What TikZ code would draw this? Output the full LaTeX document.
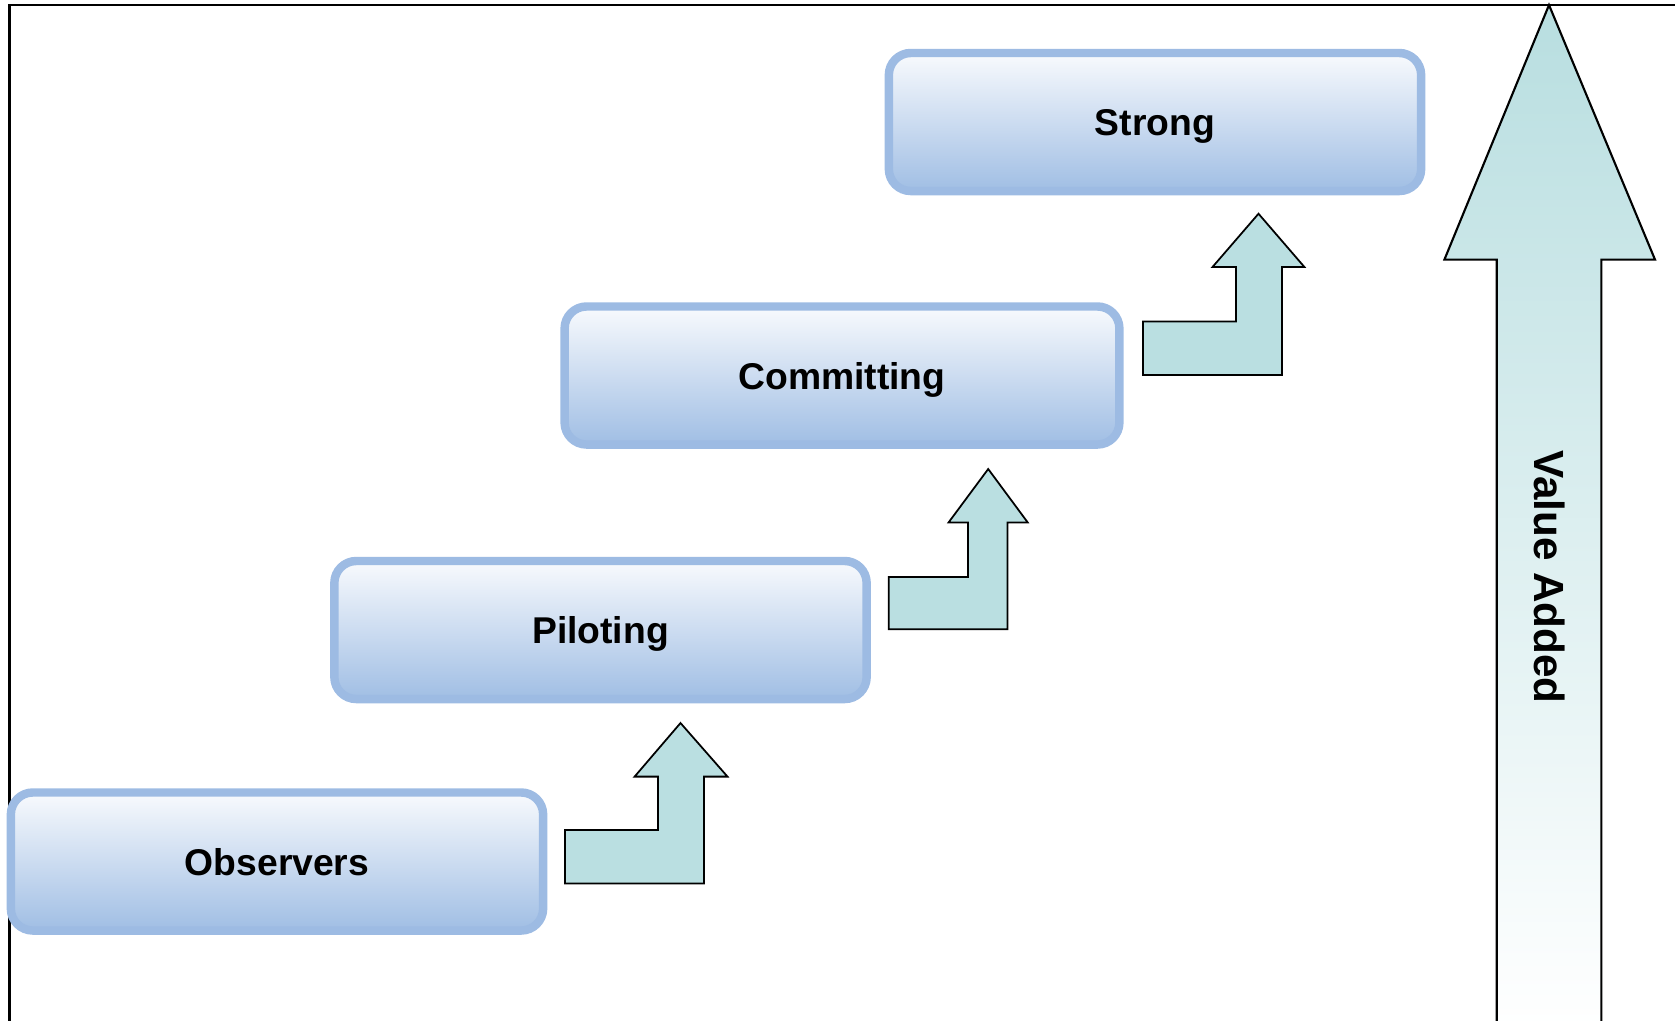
\documentclass[tikz,border=0pt]{standalone}
\usepackage{fontspec}
\setmainfont{Liberation Sans}
\usepackage{tikz}
\usetikzlibrary{positioning}
\definecolor{boxedge}{RGB}{157,187,227}
\definecolor{boxtop}{RGB}{248,250,253}
\definecolor{boxbot}{RGB}{160,190,228}
\definecolor{stepfill}{RGB}{186,223,225}
\definecolor{valtop}{RGB}{184,222,224}
\tikzset{stage/.style={draw=boxedge,line width=2.4pt,rounded corners=2.2mm,top color=boxtop,bottom color=boxbot,minimum width=5.32cm,minimum height=1.38cm,text height=10pt,text depth=2.1pt,font=\fontsize{10.6}{13}\selectfont\bfseries}}
\tikzset{stepup/.style={draw=black,line width=0.5pt,fill=stepfill}}

\begin{document}
\begin{tikzpicture}[x=0.01cm,y=-0.01cm]
		\useasboundingbox (0,0) rectangle (1675,1020);
		% frame
		\draw[line width=0.65pt] (9.5,1030) -- (9.5,5) -- (1680,5);
		% value arrow
		\draw[line width=0.6pt,top color=valtop,bottom color=white] (1549,5) -- (1655,259.6) -- (1601.4,259.6) -- (1601.4,1030) -- (1496.7,1030) -- (1496.7,259.6) -- (1444.4,259.6) -- cycle;
		\node[rotate=-90,font=\fontsize{12}{14}\selectfont\bfseries] (VA) at (1550,577) {Value Added};
		% stages
		\node[stage] (OB) at (277,861.5) {Observers};
		\node[stage] (PI) at (600.5,630) {Piloting};
		\node[stage,minimum width=5.545cm] (CO) at (842,375.5) {Committing};
		\node[stage] (ST) at (1155,122) {Strong};
		% step arrows
		\draw[stepup] (565,830) -- (658,830) -- (658,776.6) -- (634.6,776.6) -- (680.5,723) -- (727.5,776.6) -- (704,776.6) -- (704,883.5) -- (565,883.5) -- cycle;
		\draw[stepup] (888.8,577) -- (968,577) -- (968,522.4) -- (948.6,522.4) -- (988.2,469) -- (1027.7,522.4) -- (1007.4,522.4) -- (1007.4,629.2) -- (888.8,629.2) -- cycle;
		\draw[stepup] (1143,321.6) -- (1236,321.6) -- (1236,267) -- (1212.5,267) -- (1258.5,213.7) -- (1304.4,267) -- (1282,267) -- (1282,375) -- (1143,375) -- cycle;
	\end{tikzpicture}
\end{document}
